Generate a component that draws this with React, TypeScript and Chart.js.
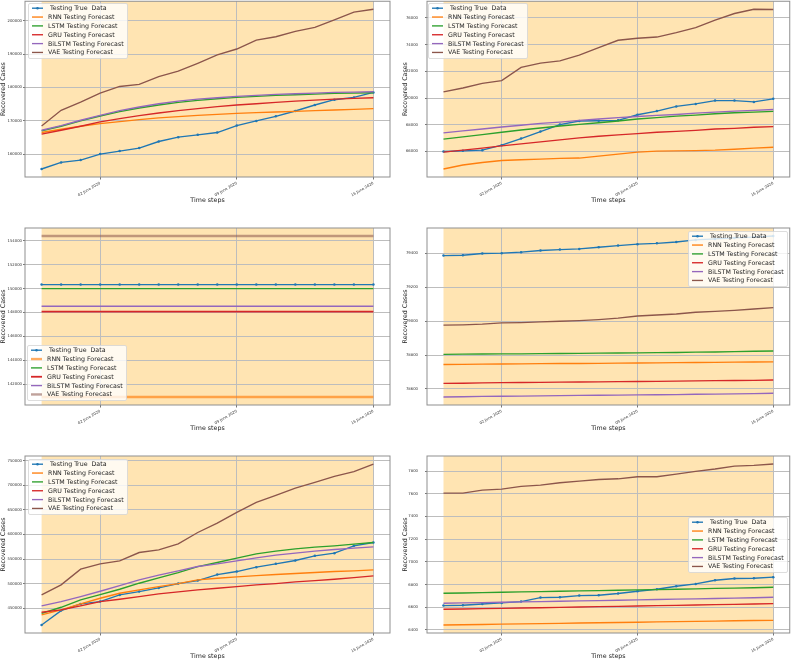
import React, { useEffect, useRef } from 'react';
import { Chart, registerables } from 'chart.js';
Chart.register(...registerables);

const dates = ['30 May 2020', '31 May 2020', '01 June 2020', '02 June 2020', '03 June 2020', '04 June 2020', '05 June 2020', '06 June 2020', '07 June 2020', '08 June 2020', '09 June 2020', '10 June 2020', '11 June 2020', '12 June 2020', '13 June 2020', '14 June 2020', '15 June 2020', '16 June 2020'];
const xTickIndex = [3, 10, 17];
const seriesNames = [' Testing True  Data', 'RNN Testing Forecast', 'LSTM Testing Forecast', 'GRU Testing Forecast', 'BiLSTM Testing Forecast', 'VAE Testing Forecast'];
const seriesColors = ['#1f77b4', '#ff7f0e', '#2ca02c', '#d62728', '#9467bd', '#8c564b'];

// Panel 1
const p1True = [155520, 157510, 158210, 160000, 160900, 161790, 163780, 165080, 165770, 166470, 168560, 169950, 171340, 172940, 174730, 176320, 177010, 178510];
const p1Rnn = [166470, 167460, 168360, 169150, 169750, 170350, 170850, 171240, 171640, 171940, 172240, 172440, 172640, 172840, 173040, 173230, 173430, 173630];
const p1Lstm = [166970, 168360, 169950, 171440, 172740, 173830, 174730, 175520, 176120, 176620, 177020, 177310, 177610, 177810, 178010, 178210, 178310, 178410];
const p1Gru = [165970, 167160, 168360, 169650, 170650, 171540, 172340, 173040, 173630, 174230, 174730, 175120, 175520, 175920, 176220, 176520, 176720, 176920];
const p1Bilstm = [167160, 168560, 170150, 171640, 173040, 174130, 175120, 175920, 176520, 176920, 177310, 177610, 177910, 178110, 178310, 178510, 178610, 178710];
const p1Vae = [168460, 173130, 175620, 178310, 180300, 180900, 183280, 184880, 187260, 189750, 191540, 194230, 195220, 196820, 198010, 200300, 202590, 203480];
const p1Ticks = [160000, 170000, 180000, 190000, 200000];

// Panel 2
const p2True = [66000, 66050, 66100, 66470, 66970, 67490, 68010, 68280, 68300, 68330, 68750, 69020, 69370, 69560, 69810, 69810, 69710, 69940];
const p2Rnn = [64690, 64990, 65180, 65330, 65380, 65430, 65480, 65510, 65650, 65800, 65950, 66030, 66050, 66070, 66100, 66170, 66250, 66320];
const p2Lstm = [66920, 67090, 67260, 67440, 67610, 67760, 67910, 68030, 68150, 68280, 68430, 68530, 68650, 68720, 68820, 68900, 68950, 69000];
const p2Gru = [65950, 66100, 66250, 66420, 66570, 66720, 66870, 67020, 67140, 67240, 67340, 67440, 67510, 67580, 67680, 67730, 67810, 67860];
const p2Bilstm = [67390, 67540, 67680, 67830, 67960, 68100, 68200, 68330, 68430, 68530, 68620, 68700, 68770, 68870, 68950, 69020, 69070, 69140];
const p2Vae = [70460, 70750, 71100, 71300, 72290, 72610, 72780, 73200, 73770, 74320, 74470, 74560, 74890, 75260, 75830, 76320, 76640, 76620];
const p2Ticks = [66000, 68000, 70000, 72000, 74000, 76000];

// Panel 3
const p3True = [150330, 150330, 150330, 150330, 150330, 150330, 150330, 150330, 150330, 150330, 150330, 150330, 150330, 150330, 150330, 150330, 150330, 150330];
const p3Rnn = [140940, 140940, 140940, 140940, 140940, 140940, 140940, 140940, 140940, 140940, 140940, 140940, 140940, 140940, 140940, 140940, 140940, 140940];
const p3Lstm = [150000, 150000, 150000, 150000, 150000, 150000, 150000, 150000, 150000, 150000, 150000, 150000, 150000, 150000, 150000, 150000, 150000, 150000];
const p3Gru = [148080, 148080, 148080, 148080, 148080, 148080, 148080, 148080, 148080, 148080, 148080, 148080, 148080, 148080, 148080, 148080, 148080, 148080];
const p3Bilstm = [148520, 148520, 148520, 148520, 148520, 148520, 148520, 148520, 148520, 148520, 148520, 148520, 148520, 148520, 148520, 148520, 148520, 148520];
const p3Vae = [154390, 154390, 154390, 154390, 154390, 154390, 154390, 154390, 154390, 154390, 154390, 154390, 154390, 154390, 154390, 154390, 154390, 154390];
const p3Ticks = [142000, 144000, 146000, 148000, 150000, 152000, 154000];

// Panel 4
const p4True = [79386, 79388, 79398, 79400, 79406, 79416, 79421, 79425, 79435, 79445, 79453, 79458, 79466, 79478, 79484, 79490, 79495, 79501];
const p4Rnn = [78744, 78745, 78746, 78747, 78748, 78749, 78750, 78750, 78751, 78752, 78753, 78754, 78755, 78756, 78757, 78758, 78759, 78760];
const p4Lstm = [78804, 78805, 78806, 78807, 78807, 78808, 78809, 78810, 78811, 78812, 78813, 78814, 78815, 78817, 78818, 78820, 78822, 78824];
const p4Gru = [78633, 78634, 78636, 78637, 78638, 78639, 78640, 78641, 78642, 78643, 78644, 78645, 78646, 78648, 78649, 78650, 78651, 78653];
const p4Bilstm = [78553, 78554, 78556, 78557, 78558, 78559, 78561, 78562, 78563, 78564, 78565, 78566, 78567, 78569, 78570, 78571, 78573, 78575];
const p4Vae = [78976, 78978, 78982, 78989, 78991, 78995, 78999, 79003, 79009, 79017, 79030, 79036, 79042, 79052, 79057, 79063, 79071, 79079];
const p4Ticks = [78600, 78800, 79000, 79200, 79400];

// Panel 5
const p5True = [416070, 445250, 458820, 463570, 477150, 483940, 491400, 500220, 506330, 518550, 524660, 533480, 540270, 547050, 556560, 561990, 576920, 583700];
const p5Rnn = [436430, 446610, 458820, 470360, 480540, 487330, 494120, 500220, 507690, 511080, 513800, 516510, 518550, 520590, 522620, 524660, 526010, 528050];
const p5Lstm = [439820, 452040, 466970, 477830, 488690, 500900, 511760, 522620, 534840, 542980, 551810, 560630, 566060, 570810, 574200, 576920, 580310, 583700];
const p5Gru = [441860, 446610, 454750, 463570, 468330, 473760, 479180, 483260, 487330, 490720, 494120, 497510, 500220, 503620, 506330, 509050, 512440, 515830];
const p5Bilstm = [454750, 463570, 473760, 484610, 496150, 507690, 517190, 526010, 534840, 540270, 546380, 552480, 557910, 561990, 566060, 569450, 572170, 574880];
const p5Vae = [477150, 497510, 529410, 540270, 546380, 563340, 568770, 580990, 604070, 623070, 644790, 665150, 679400, 694330, 705870, 718090, 727590, 743200];
const p5Ticks = [450000, 500000, 550000, 600000, 650000, 700000, 750000];

// Panel 6
const p6True = [6615, 6618, 6629, 6638, 6650, 6685, 6688, 6703, 6706, 6721, 6741, 6759, 6785, 6806, 6838, 6853, 6856, 6865];
const p6Rnn = [6444, 6446, 6448, 6451, 6453, 6456, 6458, 6461, 6463, 6466, 6468, 6471, 6473, 6476, 6478, 6481, 6483, 6485];
const p6Lstm = [6723, 6726, 6729, 6732, 6735, 6738, 6741, 6744, 6747, 6750, 6753, 6756, 6759, 6762, 6766, 6769, 6772, 6776];
const p6Gru = [6582, 6585, 6588, 6590, 6593, 6596, 6599, 6602, 6605, 6608, 6611, 6614, 6617, 6620, 6623, 6626, 6629, 6632];
const p6Bilstm = [6635, 6638, 6641, 6644, 6647, 6650, 6653, 6656, 6659, 6662, 6665, 6668, 6671, 6674, 6677, 6681, 6684, 6688];
const p6Vae = [7606, 7606, 7632, 7641, 7665, 7676, 7697, 7712, 7726, 7732, 7750, 7750, 7773, 7797, 7818, 7844, 7850, 7862];
const p6Ticks = [6400, 6600, 6800, 7000, 7200, 7400, 7600, 7800];

const W = 791;
const H = 660;
const FONT = '"DejaVu Sans", "Liberation Sans", sans-serif';
const TITLE_SIZE = 6.3;
const TICK_SIZE = 3.8;
const XH = 26.8;

type Panel = {
  series: number[][];
  yTicks: number[];
  rect: { l: number; r: number; t: number; b: number };
  legend: { x: number; y: number };
  yTitleX: number;
  yTickPad: number;
  styles?: { [k: number]: { width?: number; color?: string } };
};

const panels: Panel[] = [
  { series: [p1True, p1Rnn, p1Lstm, p1Gru, p1Bilstm, p1Vae], yTicks: p1Ticks, rect: { l: 25, r: 390, t: 1, b: 177 }, legend: { x: 28, y: 3 }, yTitleX: 3.8, yTickPad: 1 },
  { series: [p2True, p2Rnn, p2Lstm, p2Gru, p2Bilstm, p2Vae], yTicks: p2Ticks, rect: { l: 427, r: 790, t: 1, b: 177 }, legend: { x: 428, y: 3 }, yTitleX: 405.5, yTickPad: 7 },
  {
    series: [p3True, p3Rnn, p3Lstm, p3Gru, p3Bilstm, p3Vae], yTicks: p3Ticks, rect: { l: 25, r: 390, t: 228, b: 405 }, legend: { x: 27, y: 345 }, yTitleX: 3.8, yTickPad: 1,
    styles: { 1: { width: 2.4, color: 'rgba(255,127,14,0.65)' }, 3: { width: 1.8 }, 5: { width: 2.4, color: 'rgba(140,86,75,0.55)' } },
  },
  { series: [p4True, p4Rnn, p4Lstm, p4Gru, p4Bilstm, p4Vae], yTicks: p4Ticks, rect: { l: 427, r: 790, t: 228, b: 405 }, legend: { x: 688, y: 231 }, yTitleX: 405.5, yTickPad: 7 },
  { series: [p5True, p5Rnn, p5Lstm, p5Gru, p5Bilstm, p5Vae], yTicks: p5Ticks, rect: { l: 25, r: 390, t: 456, b: 633 }, legend: { x: 28, y: 459 }, yTitleX: 3.8, yTickPad: 1 },
  { series: [p6True, p6Rnn, p6Lstm, p6Gru, p6Bilstm, p6Vae], yTicks: p6Ticks, rect: { l: 427, r: 790, t: 456, b: 633 }, legend: { x: 688, y: 517 }, yTitleX: 405.5, yTickPad: 7 },
];

const panelDecor = {
  id: 'panelDecor',
  beforeDraw(chart: any) {
    const { ctx, chartArea: a, scales } = chart;
    const x = scales.x;
    const x0 = x.getPixelForValue(0);
    const x1 = x.getPixelForValue(dates.length - 1);
    ctx.save();
    ctx.fillStyle = 'rgba(255,165,0,0.3)';
    ctx.fillRect(x0, a.top, x1 - x0, a.bottom - a.top);
    ctx.restore();
  },
  afterDatasetsDraw(chart: any, _args: any, opts: any) {
    const { ctx, chartArea: a } = chart;
    ctx.save();
    ctx.strokeStyle = '#8f8f8f';
    ctx.lineWidth = 1;
    ctx.strokeRect(a.left, a.top, a.right - a.left, a.bottom - a.top);
    const L = opts.legend;
    if (L) {
      const w = 99;
      const h = 55;
      ctx.beginPath();
      (ctx as any).roundRect(L.x + 0.5, L.y + 0.5, w, h, 1.5);
      ctx.fillStyle = 'rgba(255,255,255,0.8)';
      ctx.fill();
      ctx.strokeStyle = '#d4d4d4';
      ctx.lineWidth = 0.8;
      ctx.stroke();
      chart.data.datasets.forEach((ds: any, i: number) => {
        const cy = L.y + 5.2 + i * 8.85;
        ctx.beginPath();
        ctx.strokeStyle = ds.borderColor;
        ctx.lineWidth = ds.borderWidth;
        ctx.moveTo(L.x + 4, cy);
        ctx.lineTo(L.x + 15, cy);
        ctx.stroke();
        if (ds.pointRadius > 0) {
          ctx.beginPath();
          ctx.fillStyle = ds.borderColor;
          ctx.arc(L.x + 9.5, cy, ds.pointRadius, 0, Math.PI * 2);
          ctx.fill();
        }
        ctx.fillStyle = '#1e1e1e';
        ctx.font = `6.3px ${FONT}`;
        ctx.textBaseline = 'middle';
        ctx.textAlign = 'left';
        ctx.fillText(ds.label, L.x + 20, cy + 0.3);
      });
    }
    ctx.restore();
  },
};

function buildConfig(p: Panel): any {
  const all = p.series.flat();
  const lo = Math.min(...all);
  const hi = Math.max(...all);
  const m = (hi - lo) * 0.05;
  const lh = TITLE_SIZE * 1.2;
  const yLeft = p.yTitleX - lh / 2;
  const yW = p.rect.l - yLeft;
  const gridColor = '#bdbdbd';
  return {
    type: 'line',
    data: {
      datasets: p.series.map((s, i) => {
        const st = (p.styles && p.styles[i]) || {};
        const color = st.color || seriesColors[i];
        return {
          label: seriesNames[i],
          data: s.map((v, j) => ({ x: j, y: v })),
          borderColor: color,
          backgroundColor: color,
          borderWidth: st.width || 1.35,
          pointRadius: i === 0 ? 1.25 : 0,
          pointBorderWidth: 0,
          pointBackgroundColor: color,
          pointHoverRadius: 0,
          fill: false,
          tension: 0,
          order: 5 - i,
        };
      }),
    },
    options: {
      responsive: false,
      animation: false,
      devicePixelRatio: 1,
      events: [],
      layout: { padding: { left: yLeft, right: W - p.rect.r, top: p.rect.t, bottom: H - p.rect.b - XH } },
      plugins: { legend: { display: false }, tooltip: { enabled: false }, panelDecor: { legend: p.legend } },
      scales: {
        x: {
          type: 'linear',
          min: -0.85,
          max: dates.length - 1 + 0.85,
          afterBuildTicks: (ax: any) => { ax.ticks = xTickIndex.map((v) => ({ value: v })); },
          afterFit: (ax: any) => { ax.height = XH; ax.paddingLeft = 0; ax.paddingRight = 0; },
          ticks: {
            autoSkip: false, minRotation: 30, maxRotation: 30, padding: 1.5,
            font: { family: FONT, size: TICK_SIZE }, color: '#333',
            callback: (v: any) => dates[v],
          },
          grid: { color: gridColor, lineWidth: 1, tickLength: 2.5, tickColor: '#777' },
          border: { display: false },
          title: { display: true, text: 'Time steps', font: { family: FONT, size: TITLE_SIZE }, color: '#222', padding: 0 },
        },
        y: {
          type: 'linear',
          min: lo - m,
          max: hi + m,
          afterBuildTicks: (ax: any) => { ax.ticks = p.yTicks.map((v) => ({ value: v })); },
          afterFit: (ax: any) => { ax.width = yW; ax.paddingTop = 0; ax.paddingBottom = 0; },
          ticks: {
            padding: p.yTickPad,
            font: { family: FONT, size: TICK_SIZE }, color: '#333',
            callback: (v: any) => String(v),
          },
          grid: { color: gridColor, lineWidth: 1, tickLength: 2, tickColor: '#777' },
          border: { display: false },
          title: { display: true, text: 'Recovered Cases', font: { family: FONT, size: TITLE_SIZE }, color: '#222', padding: 0 },
        },
      },
    },
    plugins: [panelDecor],
  };
}

export default function App() {
  const refs = useRef<(HTMLCanvasElement | null)[]>([]);
  useEffect(() => {
    const charts = panels.map((p, k) => new Chart(refs.current[k] as HTMLCanvasElement, buildConfig(p)));
    return () => charts.forEach((c) => c.destroy());
  }, []);
  return (
    <div style={{ position: 'absolute', left: 0, top: 0, width: W, height: H, background: '#fff' }}>
      {panels.map((_, k) => (
        <canvas
          key={k}
          ref={(el) => { refs.current[k] = el; }}
          width={W}
          height={H}
          style={{ position: 'absolute', left: 0, top: 0, width: W, height: H }}
        />
      ))}
    </div>
  );
}
